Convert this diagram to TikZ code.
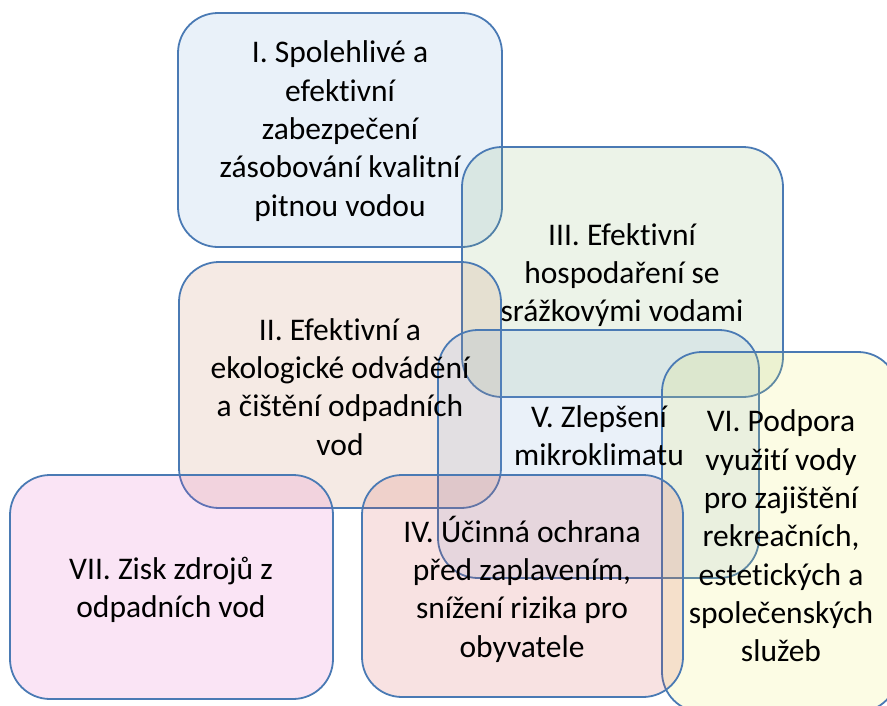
\documentclass[tikz,border=0pt]{standalone}
\usepackage{fontspec}
\setmainfont[Ligatures=NoCommon]{Carlito}
\definecolor{edge}{RGB}{74,122,180}
\definecolor{cI}{RGB}{108,162,215}
\definecolor{cIII}{RGB}{128,175,102}
\definecolor{cII}{RGB}{188,115,75}
\definecolor{cV}{RGB}{115,162,215}
\definecolor{cVI}{RGB}{235,235,75}
\definecolor{cVII}{RGB}{222,75,188}
\definecolor{cIV}{RGB}{208,62,62}
\begin{document}
\begin{tikzpicture}[x=1pt,y=-1pt,
  panel/.style={draw=edge, line width=1.8pt, rounded corners=40pt, fill opacity=0.15, draw opacity=1},
  lbl/.style={align=center, font=\fontsize{31.5}{38.3}\selectfont, text=black, inner sep=0pt}]
\useasboundingbox (0,0) rectangle (887,705);
\clip (0,0) rectangle (887,705);
\draw[panel, fill=cI]   (178,13)  rectangle (502,247);
\draw[panel, fill=cIII] (462,147) rectangle (783,397);
\draw[panel, fill=cII]  (179,262) rectangle (501,508);
\draw[panel, fill=cV]   (438,330) rectangle (759,578);
\draw[panel, fill=cVI]  (662,352) rectangle (898,712);
\draw[panel, fill=cVII] (10,475)  rectangle (333,699);
\draw[panel, fill=cIV]  (362,475) rectangle (683,697);
\node[lbl] (tI)   at (340,131) {I. Spolehlivé a\\efektivní\\zabezpečení\\zásobování kvalitní\\pitnou vodou};
\node[lbl] (tIII) at (622,275) {III. Efektivní\\hospodaření se\\srážkovými vodami};
\node[lbl] (tII)  at (340,387) {II. Efektivní a\\ekologické odvádění\\a čištění odpadních\\vod};
\node[lbl] (tV)   at (599,436) {V. Zlepšení\\mikroklimatu};
\node[lbl] (tVI)  at (781,536) {VI. Podpora\\využití vody\\pro zajištění\\rekreačních,\\estetických a\\společenských\\služeb};
\node[lbl] (tVII) at (171,590) {VII. Zisk zdrojů z\\odpadních vod};
\node[lbl] (tIV)  at (522,589) {IV. Účinná ochrana\\před zaplavením,\\snížení rizika pro\\obyvatele};
\end{tikzpicture}
\end{document}
